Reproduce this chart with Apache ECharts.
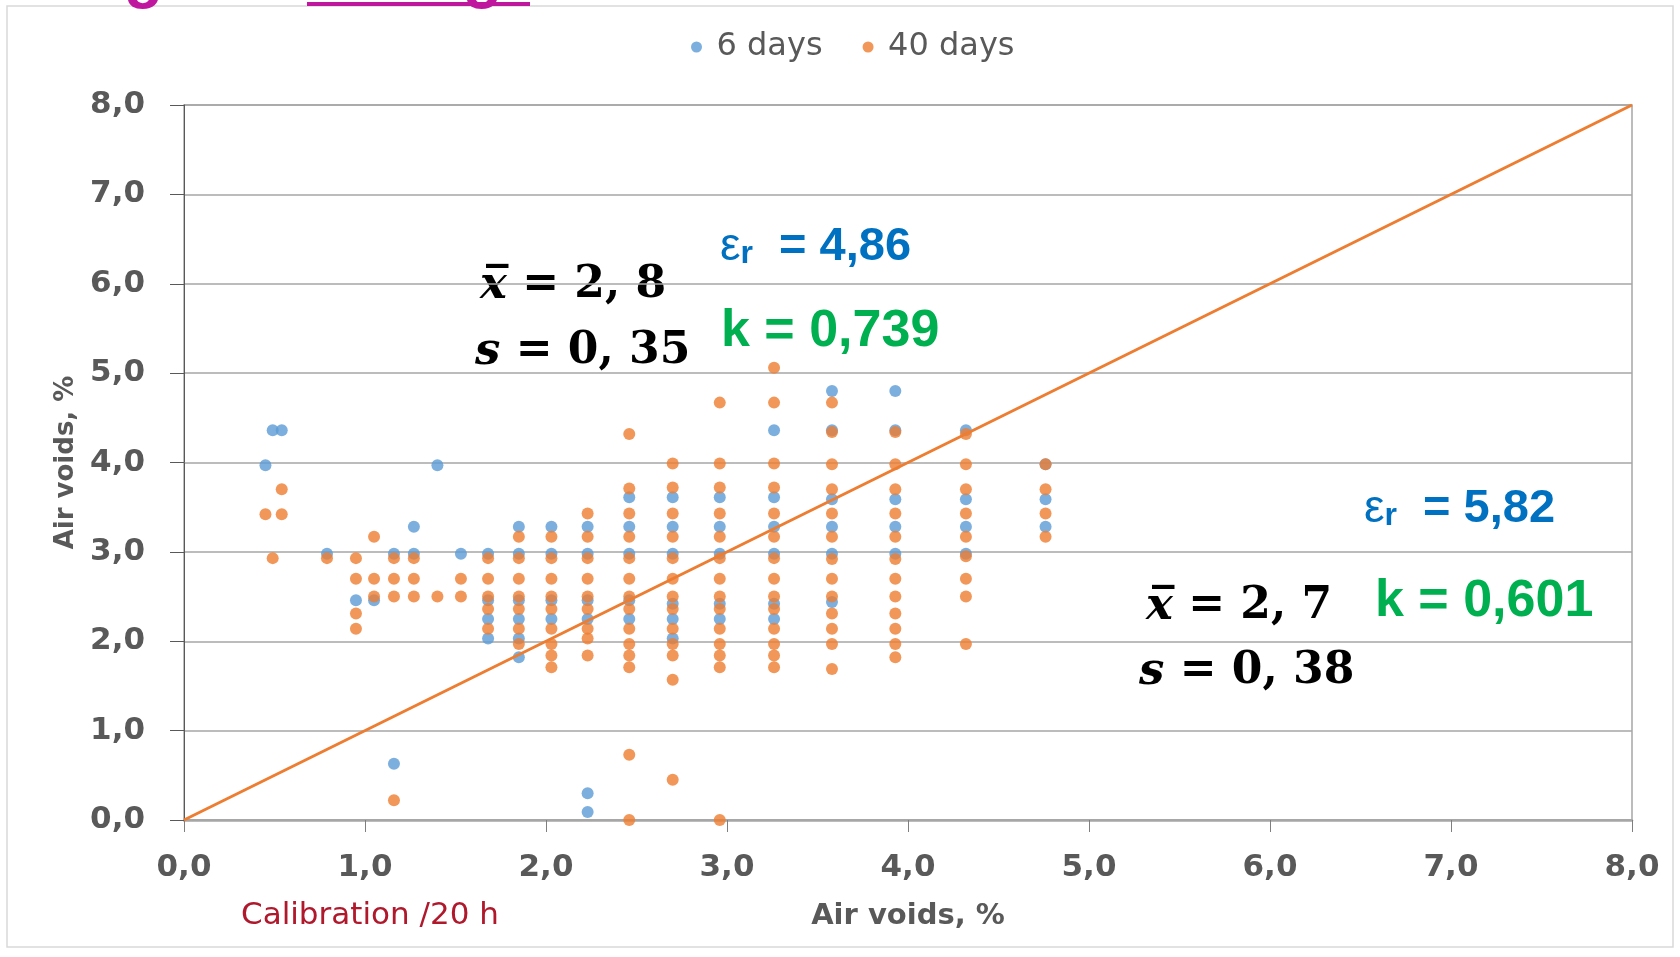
<!DOCTYPE html>
<html>
<head>
<meta charset="utf-8">
<title>Air voids</title>
<script src="https://cdn.jsdelivr.net/npm/echarts@6/dist/echarts.min.js"></script>
<style>
  html, body { margin: 0; padding: 0; background: #fff; }
  #chart { width: 1680px; height: 957px; }
</style>
</head>
<body>
<div id="chart"></div>
<script>
// columns of measured points (air voids, calibration 20 h)
const colX = [0.45, 0.49, 0.54, 0.79, 0.95, 1.05, 1.16, 1.27, 1.40, 1.53, 1.68,
  1.85, 2.03, 2.23, 2.46, 2.70, 2.96, 3.26, 3.58, 3.93, 4.32, 4.76];

// 6 days - y values for each column above
const days6Y = [
  [3.97], [4.36], [4.36], [2.98], [2.46], [2.46], [2.98, 0.63], [3.28, 2.98],
  [3.97], [2.98],
  [2.98, 2.46, 2.25, 2.03],
  [3.28, 2.98, 2.46, 2.25, 2.03, 1.82],
  [3.28, 2.98, 2.46, 2.25],
  [3.28, 2.98, 2.46, 2.25, 0.30, 0.09],
  [3.61, 3.28, 2.98, 2.46, 2.25],
  [3.61, 3.28, 2.98, 2.42, 2.25, 2.03],
  [3.61, 3.28, 2.98, 2.42, 2.25],
  [4.36, 3.61, 3.28, 2.98, 2.42, 2.25],
  [4.80, 4.36, 3.59, 3.28, 2.98, 2.44],
  [4.80, 4.36, 3.59, 3.28, 2.98],
  [4.36, 3.59, 3.28, 2.98],
  [3.98, 3.59, 3.28]
];

// 40 days - y values for each column
const days40Y = [
  [3.42], [2.93], [3.70, 3.42], [2.93],
  [2.93, 2.70, 2.31, 2.14],
  [3.17, 2.70, 2.50],
  [2.93, 2.70, 2.50, 0.22],
  [2.93, 2.70, 2.50],
  [2.50],
  [2.70, 2.50],
  [2.93, 2.70, 2.50, 2.36, 2.14],
  [3.17, 2.93, 2.70, 2.50, 2.36, 2.14, 1.97],
  [3.17, 2.93, 2.70, 2.50, 2.36, 2.14, 1.97, 1.84, 1.71],
  [3.43, 3.17, 2.93, 2.70, 2.50, 2.36, 2.14, 2.03, 1.84],
  [4.32, 3.71, 3.43, 3.17, 2.93, 2.70, 2.50, 2.36, 2.14, 1.97, 1.84, 1.71, 0.73, 0.0],
  [3.99, 3.72, 3.43, 3.17, 2.93, 2.70, 2.50, 2.36, 2.14, 1.97, 1.84, 1.57, 0.45],
  [4.67, 3.99, 3.72, 3.43, 3.17, 2.93, 2.70, 2.50, 2.36, 2.14, 1.97, 1.84, 1.71, 0.0],
  [5.06, 4.67, 3.99, 3.72, 3.43, 3.17, 2.93, 2.70, 2.50, 2.36, 2.14, 1.97, 1.84, 1.71],
  [4.67, 4.34, 3.98, 3.70, 3.43, 3.17, 2.92, 2.70, 2.50, 2.31, 2.14, 1.97, 1.69],
  [4.34, 3.98, 3.70, 3.43, 3.17, 2.92, 2.70, 2.50, 2.31, 2.14, 1.97, 1.82],
  [4.32, 3.98, 3.70, 3.43, 3.17, 2.95, 2.70, 2.50, 1.97],
  [3.98, 3.70, 3.43, 3.17]
];

// 1:1 line
const eqX = [0, 8];
const eqY = [0, 8];

const seriesNames = ['6 days', '40 days'];

function toPairs(ys) {
  const out = [];
  ys.forEach((col, i) => col.forEach(y => out.push([colX[i], y])));
  return out;
}

const fmt = v => v.toFixed(1).replace('.', ',');
const grey = '#595959';
const blue = '#0070C0';
const green = '#00B050';

// zrender rich styles (graphic text uses fill, not color)
const serif = {
  i: { fontFamily: 'DejaVu Serif', fontStyle: 'italic', fontWeight: 'bold', fontSize: 45, fill: '#000' },
  n: { fontFamily: 'DejaVu Serif', fontWeight: 'bold', fontSize: 44, fill: '#000' }
};
const eps = {
  e: { fontFamily: 'Liberation Sans', fontSize: 46, fill: blue },
  r: { fontFamily: 'Liberation Sans', fontWeight: 'bold', fontSize: 32, fill: blue, verticalAlign: 'bottom' },
  n: { fontFamily: 'Liberation Sans', fontWeight: 'bold', fontSize: 47, fill: blue }
};

function stat(x, y, text, rich) {
  return { type: 'text', x: x, y: y, style: { text: text, rich: rich, align: 'left', verticalAlign: 'middle' } };
}
function kText(x, y, text) {
  return { type: 'text', x: x, y: y, style: { text: text, fill: green, font: 'bold 52px "Liberation Sans"', align: 'left', verticalAlign: 'middle' } };
}

const chart = echarts.init(document.getElementById('chart'));
chart.setOption({
  animation: false,
  backgroundColor: '#fff',
  grid: { left: 184, right: 48, top: 105, bottom: 137, show: true, borderColor: '#a6a6a6', borderWidth: 1.5 },
  legend: {
    data: seriesNames,
    left: 686, top: 26,
    icon: 'circle', itemWidth: 30, itemHeight: 11, itemGap: 40,
    textStyle: { color: grey, fontSize: 32, fontFamily: 'DejaVu Sans' }
  },
  xAxis: {
    type: 'value', min: 0, max: 8, interval: 1,
    name: 'Air voids, %', nameLocation: 'middle', nameGap: 82,
    nameTextStyle: { color: grey, fontSize: 29, fontWeight: 'bold', fontFamily: 'DejaVu Sans' },
    axisLine: { lineStyle: { color: '#a6a6a6', width: 2.5 } },
    axisTick: { show: true, length: 12, lineStyle: { color: '#7f7f7f' } },
    axisLabel: { formatter: fmt, margin: 32, color: grey, fontSize: 31, fontWeight: 'bold', fontFamily: 'DejaVu Sans' },
    splitLine: { show: false }
  },
  yAxis: {
    type: 'value', min: 0, max: 8, interval: 1,
    name: 'Air voids, %', nameLocation: 'middle', nameGap: 104,
    nameTextStyle: { color: grey, fontSize: 26, fontWeight: 'bold', fontFamily: 'DejaVu Sans' },
    axisLine: { show: true, lineStyle: { color: '#595959', width: 1 } },
    axisTick: { show: true, length: 14, lineStyle: { color: '#595959' } },
    axisLabel: { formatter: fmt, margin: 39, color: grey, fontSize: 31, fontWeight: 'bold', fontFamily: 'DejaVu Sans' },
    splitLine: { show: true, lineStyle: { color: '#a6a6a6', width: 1.5 } }
  },
  series: [
    {
      name: seriesNames[0], type: 'scatter', symbolSize: 12,
      itemStyle: { color: '#5B9BD5' },
      data: toPairs(days6Y)
    },
    {
      name: seriesNames[1], type: 'scatter', symbolSize: 12,
      itemStyle: { color: '#ED7D31' },
      data: toPairs(days40Y)
    },
    {
      name: 'equality', type: 'line', silent: true, showSymbol: false,
      lineStyle: { color: '#ED7D31', width: 3 },
      data: eqX.map((x, i) => [x, eqY[i]])
    }
  ],
  graphic: [
    // frame of the pasted chart
    { type: 'rect', shape: { x: 7, y: 6, width: 1666, height: 941 }, style: { fill: 'none', stroke: '#d9d9d9', lineWidth: 1.5 } },
    // cut-off slide title above the chart
    { type: 'text', x: 124, y: 10, style: { text: 'g', fill: '#c0179f', font: 'bold 64px "Liberation Sans"', verticalAlign: 'bottom' } },
    { type: 'text', x: 463, y: 10, style: { text: 'g', fill: '#c0179f', font: 'bold 64px "Liberation Sans"', verticalAlign: 'bottom' } },
    { type: 'rect', shape: { x: 307, y: 2, width: 223, height: 4 }, style: { fill: '#c0179f' } },
    // axis caption
    { type: 'text', x: 241, y: 916, style: { text: 'Calibration /20 h', fill: '#b0182c', font: '31px "DejaVu Sans"', verticalAlign: 'middle' } },
    // statistics
    stat(480, 286, '{i|x\u0305}{n| = 2, 8}', serif),
    stat(475, 352, '{i|s}{n| = 0, 35}', serif),
    stat(720, 247, '{e|ε}{r|r}{n|  = 4,86}', eps),
    kText(721, 332, 'k = 0,739'),
    stat(1146, 607, '{i|x\u0305}{n| = 2, 7}', serif),
    stat(1139, 672, '{i|s}{n| = 0, 38}', serif),
    stat(1364, 509, '{e|ε}{r|r}{n|  = 5,82}', eps),
    kText(1375, 602, 'k = 0,601')
  ]
});
</script>
</body>
</html>
